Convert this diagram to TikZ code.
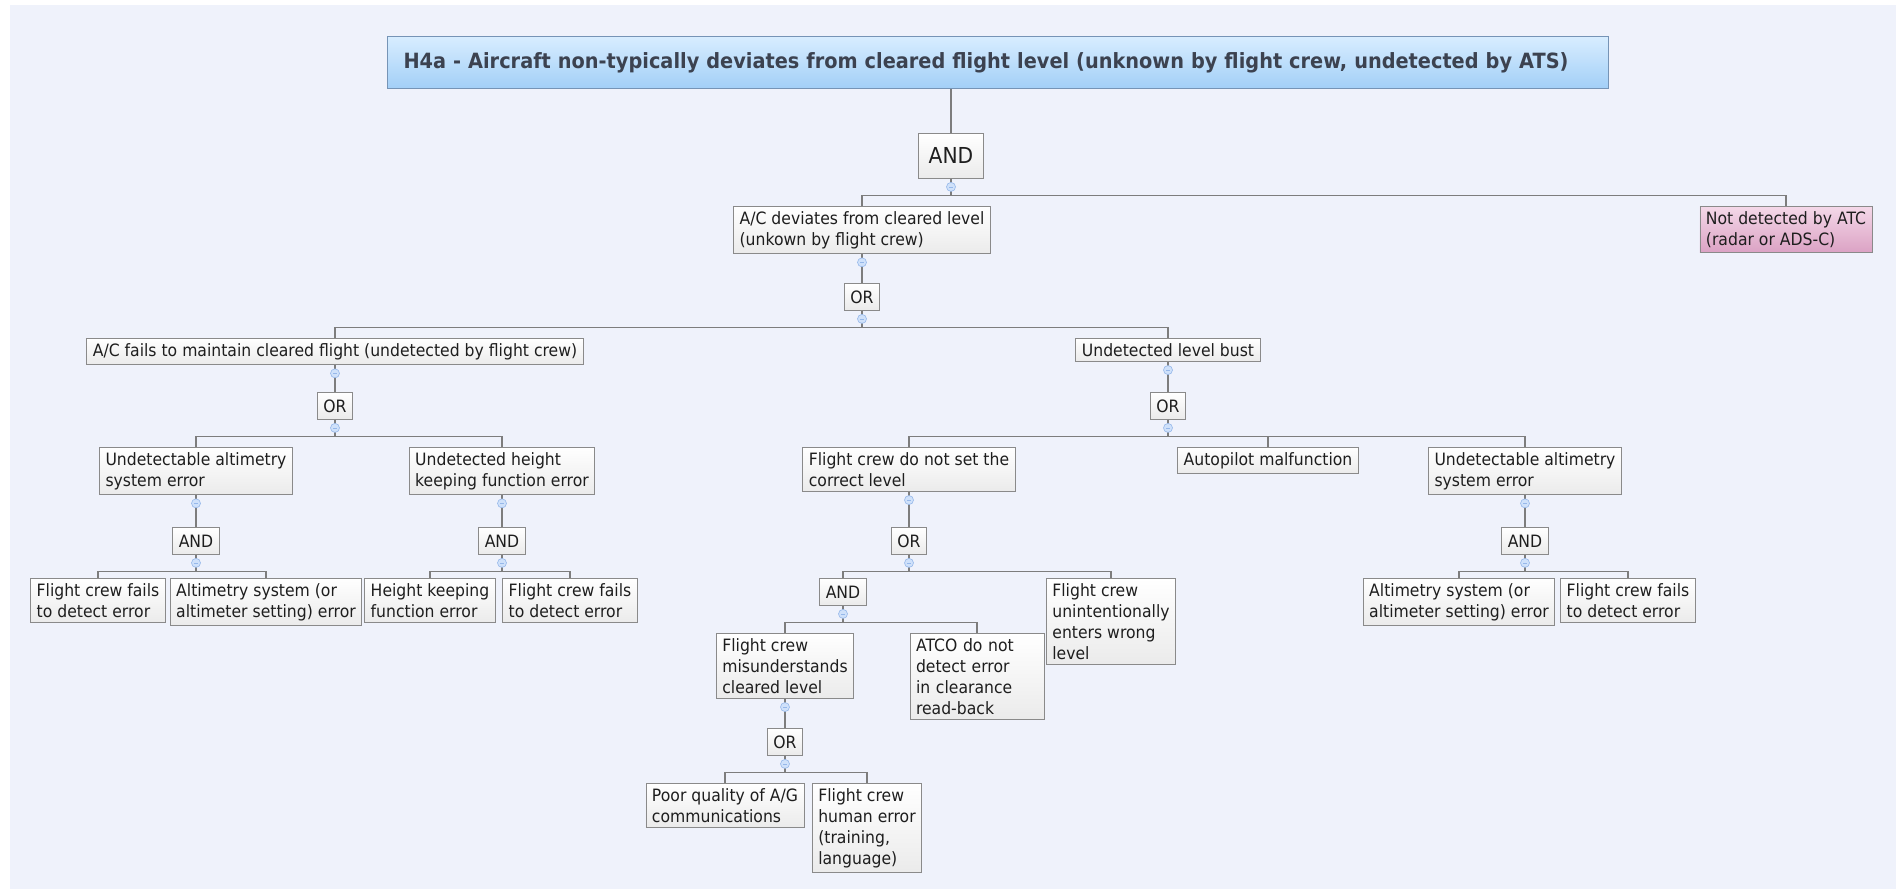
\documentclass[tikz,border=0pt]{standalone}
\usepackage{fontspec}
\setmainfont{DejaVu Sans}[FakeStretch=0.92]
\usepackage{tikz}
\usetikzlibrary{positioning}
\definecolor{bgcol}{RGB}{239,242,251}
\definecolor{boxline}{RGB}{138,138,138}
\definecolor{linkcol}{RGB}{125,125,125}
\definecolor{txtcol}{RGB}{30,30,30}
\definecolor{titletop}{RGB}{216,237,255}
\definecolor{titlebot}{RGB}{162,207,247}
\definecolor{titleline}{RGB}{118,148,182}
\definecolor{titletxt}{RGB}{60,66,80}
\definecolor{pinktop}{RGB}{244,216,232}
\definecolor{pinkbot}{RGB}{219,162,196}
\definecolor{foldfill}{RGB}{207,225,250}
\definecolor{foldline}{RGB}{150,184,234}

\begin{document}
\begin{tikzpicture}[x=1pt, y=-1pt,
  event/.style={draw=boxline, line width=0.9pt, top color=white, bottom color=black!8,
                align=left, anchor=north, inner xsep=6pt, inner ysep=5pt, text=txtcol,
                font=\fontsize{17}{21}\selectfont},
  gate/.style={event, align=center, minimum height=27pt},
  link/.style={draw=linkcol, line width=1.1pt},
  fold/.style={circle, draw=foldline, fill=foldfill, line width=0.6pt, minimum size=9pt,
               inner sep=0pt,
               path picture={\draw[foldline, line width=0.7pt]
                 ([xshift=-2.2pt]path picture bounding box.center) --
                 ([xshift=2.2pt]path picture bounding box.center);}}]
  \useasboundingbox (0,0) rectangle (1896,889);
  \fill[white] (0,0) rectangle (1896,889);
  \fill[bgcol] (10,5) rectangle (1896,889);

  % top event
  \node[draw=titleline, line width=1pt, top color=titletop, bottom color=titlebot,
        anchor=north west, text width=1189pt, minimum height=52pt, inner xsep=16pt,
        align=left, text=titletxt, font=\bfseries\fontsize{21}{25}\selectfont]
    (title) at (387,36)
    {H4a - Aircraft non-typically deviates from cleared flight level (unknown by flight crew, undetected by ATS)};
  \node[gate, minimum width=65pt, minimum height=45pt, inner xsep=10pt,
        font=\fontsize{22}{26}\selectfont] (andtop) at (951,133) {AND};

  % level 1
  \node[event] (acdev) at (862,206) {A/C deviates from cleared level\\(unkown by flight crew)};
  \node[event, top color=pinktop, bottom color=pinkbot] (notdet) at (1786,206)
    {Not detected by ATC\\(radar or ADS-C)};
  \node[gate] (or1) at (862,283) {OR};

  % level 2
  \node[event] (acfail) at (335,338) {A/C fails to maintain cleared flight (undetected by flight crew)};
  \node[event] (lvlbust) at (1168,338) {Undetected level bust};
  \node[gate] (or2) at (335,392) {OR};
  \node[gate] (or3) at (1168,392) {OR};

  % level 3
  \node[event] (alt1) at (196,447) {Undetectable altimetry\\system error};
  \node[event] (hk1) at (502,447) {Undetected height\\keeping function error};
  \node[event] (fcset) at (909,447) {Flight crew do not set the\\correct level};
  \node[event] (autop) at (1268,447) {Autopilot malfunction};
  \node[event] (alt3) at (1525,447) {Undetectable altimetry\\system error};
  \foreach \n/\xp/\g in {and2/196/AND, and3/502/AND, or4/909/OR, and5/1525/AND}
    \node[gate] (\n) at (\xp,527) {\g};

  % level 4
  \node[event] (fcd1) at (98,578) {Flight crew fails\\to detect error};
  \node[event] (alt2) at (266,578) {Altimetry system (or\\altimeter setting) error};
  \node[event] (hkf) at (430,578) {Height keeping\\function error};
  \node[event] (fcd2) at (570,578) {Flight crew fails\\to detect error};
  \node[gate] (and4) at (843,578) {AND};
  \node[event] (fcunint) at (1111,578) {Flight crew\\unintentionally\\enters wrong\\level};
  \node[event] (altsys3) at (1459,578) {Altimetry system (or\\altimeter setting) error};
  \node[event] (fcd3) at (1628,578) {Flight crew fails\\to detect error};

  % level 5
  \node[event] (fcmis) at (785,633) {Flight crew\\misunderstands\\cleared level};
  \node[event, text width=122pt] (atco) at (977,633)
    {ATCO do not\\detect error\\in clearance\\read-back};
  \node[gate] (or5) at (785,728) {OR};
  \node[event] (poor) at (725,783) {Poor quality of A/G\\communications};
  \node[event] (human) at (867,783) {Flight crew\\human error\\(training,\\language)};

  % connectors
  \draw[link] (title.south -| andtop.north) -- (andtop.north);
  \foreach \p/\c in {andtop/acdev, andtop/notdet, acdev/or1, or1/acfail, or1/lvlbust,
                     acfail/or2, lvlbust/or3, or2/alt1, or2/hk1, alt1/and2, hk1/and3,
                     and2/fcd1, and2/alt2, and3/hkf, and3/fcd2,
                     or3/fcset, or3/autop, or3/alt3, fcset/or4, alt3/and5,
                     or4/and4, or4/fcunint, and4/fcmis, and4/atco, fcmis/or5,
                     or5/poor, or5/human, and5/altsys3, and5/fcd3}
    \draw[link] (\p.south) -- ++(0,17) -| (\c.north);

  % collapse markers
  \foreach \p in {andtop, acdev, or1, acfail, lvlbust, or2, or3, alt1, hk1, fcset, alt3,
                  and2, and3, or4, and5, and4, fcmis, or5}
    \node[fold] (fold-\p) at ([yshift=-8pt]\p.south) {};
\end{tikzpicture}
\end{document}
